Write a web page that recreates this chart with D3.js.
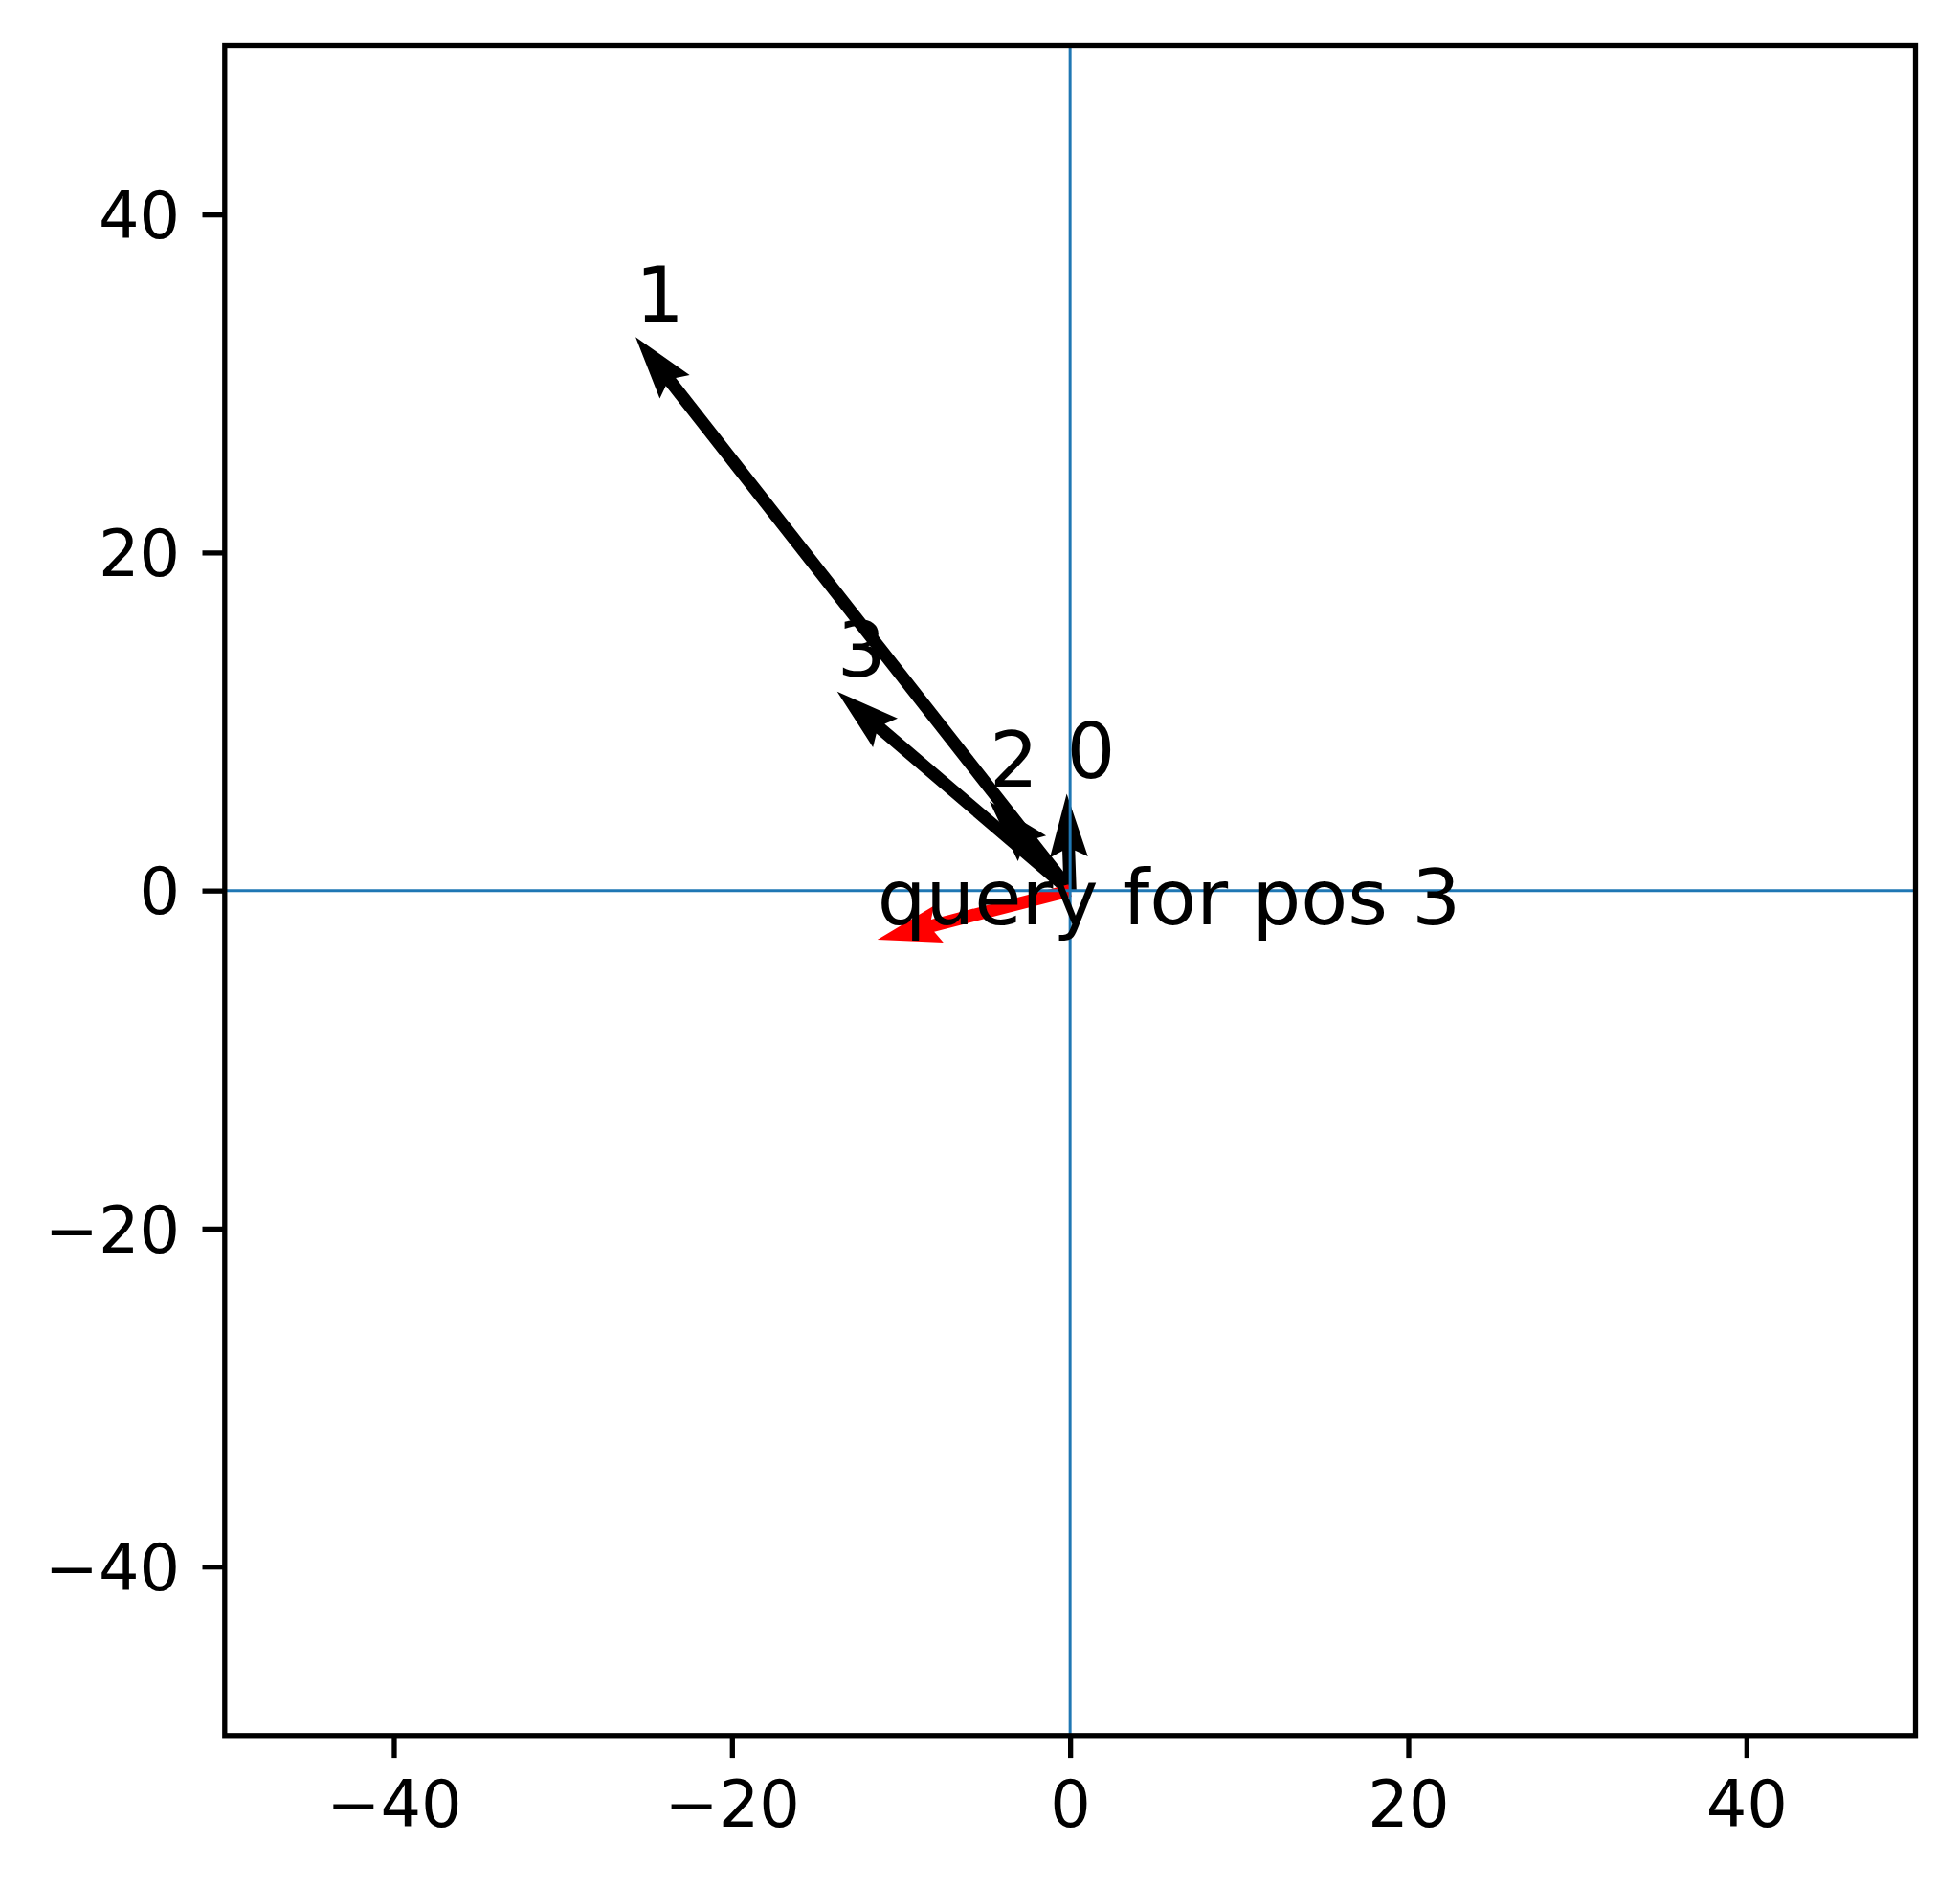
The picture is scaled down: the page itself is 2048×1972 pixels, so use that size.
<!DOCTYPE html>
<html>
<head>
<meta charset="utf-8">
<title>query for pos 3</title>
<script src="https://d3js.org/d3.v7.min.js"></script>
</head>
<style>
body {margin: 0; background: white;}
svg {display: block;}
text {font-family: "DejaVu Sans", sans-serif;}
</style>
<body>
<svg width="2048" height="1972"></svg>
<script>
// key vectors (tail at the origin)
var keyLabels = ["0", "1", "2", "3"];
var keyU = [-0.2, -25.7, -4.77, -13.78];
var keyV = [5.73, 32.75, 5.27, 11.77];

// query vector
var queryLabels = ["query for pos 3"];
var queryU = [-11.4];
var queryV = [-2.91];

var xTicks = [-40, -20, 0, 20, 40];
var yTicks = [-40, -20, 0, 20, 40];

var plotLeft = 234.8, plotRight = 2001.5, plotTop = 47.5, plotBottom = 1813.8;
var x = d3.scaleLinear().domain([-50, 50]).range([plotLeft, plotRight]);
var y = d3.scaleLinear().domain([-50, 50]).range([plotBottom, plotTop]);

var svg = d3.select("svg");
var shaft = 0.0075 * (plotRight - plotLeft);   // quiver default shaft width

// quiver style arrow polygon, from (x0,y0) to (x1,y1) in pixels
function arrowPoints(x0, y0, x1, y1, w) {
  var dx = x1 - x0, dy = y1 - y0;
  var len = Math.sqrt(dx * dx + dy * dy);
  var L = len / w;
  var c = dx / len, s = dy / len;
  var ax = [0, L - 4.5, L - 5, L, L - 5, L - 4.5, 0];
  var ay = [0.5, 0.5, 1.5, 0, -1.5, -0.5, -0.5];
  return ax.map(function(a, i) {
    return [x0 + w * (a * c - ay[i] * s), y0 + w * (a * s + ay[i] * c)];
  });
}

function drawArrows(us, vs, color) {
  svg.append("g")
    .selectAll("polygon")
    .data(us)
    .enter()
    .append("polygon")
    .attr("fill", color)
    .attr("points", function(d, i) {
      return arrowPoints(x(0), y(0), x(us[i]), y(vs[i]), shaft).join(" ");
    });
}

drawArrows(keyU, keyV, "#000000");
drawArrows(queryU, queryV, "#ff0000");

// axhline / axvline through the origin
svg.append("line")
  .attr("x1", plotLeft).attr("x2", plotRight)
  .attr("y1", y(0)).attr("y2", y(0))
  .attr("stroke", "#1f77b4").attr("stroke-width", 3);
svg.append("line")
  .attr("x1", x(0)).attr("x2", x(0))
  .attr("y1", plotTop).attr("y2", plotBottom)
  .attr("stroke", "#1f77b4").attr("stroke-width", 3);

// axes
var xAxis = d3.axisBottom(x).tickValues(xTicks).tickSize(23.3).tickPadding(23.3);
var yAxis = d3.axisLeft(y).tickValues(yTicks).tickSize(23.3).tickPadding(23.3);

var gx = svg.append("g")
  .attr("transform", "translate(0," + plotBottom + ")")
  .call(xAxis);
var gy = svg.append("g")
  .attr("transform", "translate(" + plotLeft + ",0)")
  .call(yAxis);

[gx, gy].forEach(function(g) {
  g.select(".domain").remove();
  g.selectAll(".tick line").attr("stroke", "#000").attr("stroke-width", 5.3);
  g.selectAll(".tick text")
    .attr("fill", "#000")
    .style("font-size", "67px")
    .style("font-family", "'DejaVu Sans', sans-serif");
});
gx.selectAll(".tick text").attr("y", 46.6).attr("dy", "0.73em");
gy.selectAll(".tick text").attr("x", -46.6).attr("dy", "0.36em");

svg.append("rect")
  .attr("x", plotLeft).attr("y", plotTop)
  .attr("width", plotRight - plotLeft).attr("height", plotBottom - plotTop)
  .attr("fill", "none")
  .attr("stroke", "#000")
  .attr("stroke-width", 5.3);

// labels at the vector tips
function drawLabels(us, vs, labels) {
  svg.append("g")
    .selectAll("text")
    .data(labels)
    .enter()
    .append("text")
    .attr("x", function(d, i) { return x(us[i]); })
    .attr("y", function(d, i) { return y(vs[i]) - 16; })
    .style("font-size", "80px")
    .attr("fill", "#000")
    .text(function(d) { return d; });
}

drawLabels(keyU, keyV, keyLabels);
drawLabels(queryU, queryV, queryLabels);
</script>
</body>
</html>
